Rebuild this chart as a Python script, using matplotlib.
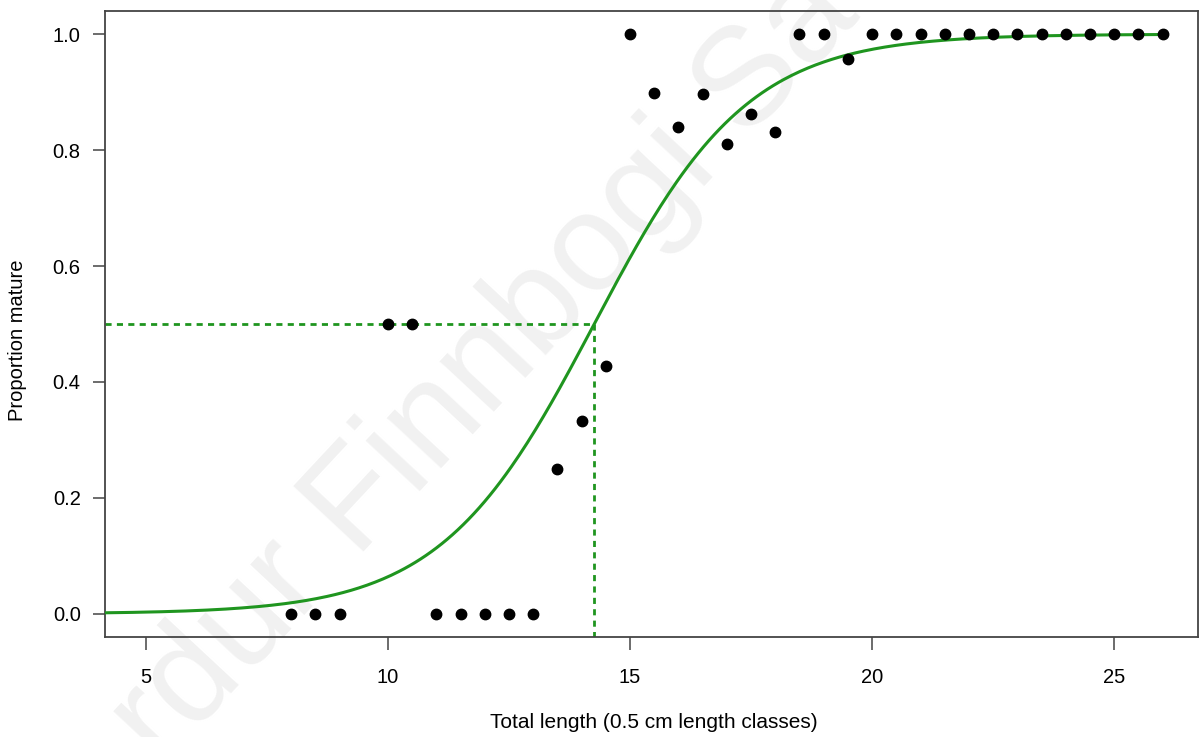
import numpy as np
import matplotlib
matplotlib.use("Agg")
import matplotlib.pyplot as plt

# length classes (0.5 cm) and observed proportion mature
length_cls = [8, 8.5, 9, 10, 10.5, 11, 11.5, 12, 12.5, 13, 13.5, 14, 14.5,
              15, 15.5, 16, 16.5, 17, 17.5, 18, 18.5, 19, 19.5, 20, 20.5,
              21, 21.5, 22, 22.5, 23, 23.5, 24, 24.5, 25, 25.5, 26]
prop_mature = [0, 0, 0, 0.5, 0.5, 0, 0, 0, 0, 0, 0.25, 0.333, 0.428,
               1.0, 0.898, 0.839, 0.896, 0.810, 0.862, 0.831, 1.0, 1.0, 0.957, 1.0, 1.0,
               1.0, 1.0, 1.0, 1.0, 1.0, 1.0, 1.0, 1.0, 1.0, 1.0, 1.0]

# fitted logistic maturity ogive
L50 = 14.26
slope = 0.63
x_ticks = [5, 10, 15, 20, 25]
y_ticks = [0.0, 0.2, 0.4, 0.6, 0.8, 1.0]

plt.rcParams['font.family'] = ['Liberation Sans', 'DejaVu Sans']
green = '#1f951f'

fig = plt.figure(figsize=(11.99, 7.37), dpi=100)

# faint watermark behind the plot
fig.text(0.405, 0.50, "rdur Finnbogi Sa", fontsize=100, color='#f1f1f1',
         rotation=47, ha='center', va='center', zorder=0)

ax = fig.add_axes([0.0876, 0.1357, 0.9115, 0.8494])
ax.set_zorder(1)
ax.patch.set_alpha(0)

xlo, xhi = 4.155, 26.73
ax.set_xlim(xlo, xhi)
ax.set_ylim(-0.04, 1.04)

xs = np.linspace(4.0, 26.0, 400)
ax.plot(xs, 1 / (1 + np.exp(-slope * (xs - L50))), color=green, lw=2.2, zorder=3)

ax.plot([xlo, L50], [0.5, 0.5], color=green, lw=2.0, ls=(0, (2.2, 1.9)), zorder=2)
ax.plot([L50, L50], [0.5, -0.04], color=green, lw=2.0, ls=(0, (2.2, 1.9)), zorder=2)

ax.plot(length_cls, prop_mature, 'o', color='black', ms=7.5, zorder=4)

ax.set_xticks(x_ticks)
ax.set_yticks(y_ticks)
ax.set_yticklabels([f"{v:.1f}" for v in y_ticks])
ax.tick_params(axis='both', labelsize=14.5, length=9, width=1.1, color='#444444')
ax.tick_params(axis='x', pad=13)
ax.tick_params(axis='y', pad=8.5)

for s in ax.spines.values():
    s.set_color('#444444')
    s.set_linewidth(1.3)

fig.text(0.5455, 0.020, "Total length (0.5 cm length classes)", fontsize=15,
         ha='center', va='center')
fig.text(0.015, 0.5385, "Proportion mature", fontsize=14.5, rotation=90,
         ha='center', va='center')

fig.savefig("out.png", dpi=100)
